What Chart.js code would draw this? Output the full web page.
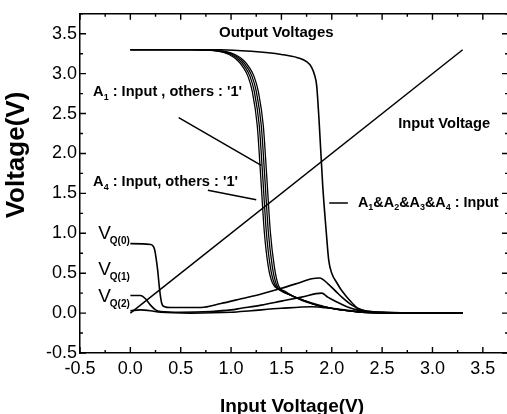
<!DOCTYPE html>
<html>
<head>
<meta charset="utf-8">
<script src="https://cdn.jsdelivr.net/npm/chart.js@4/dist/chart.umd.min.js"></script>
<style>
  html, body { margin: 0; padding: 0; background: #fff; overflow: hidden; }
  #wrap { position: relative; width: 510px; height: 414px; }
</style>
</head>
<body>
<div id="wrap"><canvas id="chart"></canvas></div>
<script>
// major tick values (labels are printed with one decimal)
var xTicks = [-0.5, 0.0, 0.5, 1.0, 1.5, 2.0, 2.5, 3.0, 3.5];
var yTicks = [-0.5, 0.0, 0.5, 1.0, 1.5, 2.0, 2.5, 3.0, 3.5];

// input voltage sweep
var inX = [0, 3.3];
var inY = [0, 3.3];

// output, one input switching at a time (A1..A4 : input, others '1')
var a1X = [0, 0.6, 0.88, 0.98, 1.06, 1.12, 1.17, 1.21, 1.26, 1.295, 1.33, 1.37, 1.41, 1.48, 1.6, 1.7, 1.85, 2.0, 2.15, 2.3, 2.6, 3.3];
var a1Y = [3.3, 3.3, 3.28, 3.24, 3.17, 3.08, 2.96, 2.78, 2.35, 1.70, 1.02, 0.58, 0.38, 0.29, 0.22, 0.17, 0.11, 0.06, 0.03, 0.01, 0.0, 0.0];
var a2X = [0, 0.6, 0.90, 1.00, 1.08, 1.14, 1.19, 1.23, 1.28, 1.315, 1.35, 1.39, 1.43, 1.50, 1.6, 1.7, 1.85, 2.0, 2.15, 2.3, 2.6, 3.3];
var a2Y = [3.3, 3.3, 3.28, 3.24, 3.17, 3.08, 2.96, 2.78, 2.35, 1.70, 1.02, 0.58, 0.37, 0.28, 0.22, 0.17, 0.10, 0.06, 0.03, 0.01, 0.0, 0.0];
var a3X = [0, 0.6, 0.92, 1.02, 1.10, 1.16, 1.21, 1.25, 1.30, 1.335, 1.37, 1.41, 1.45, 1.52, 1.6, 1.7, 1.85, 2.0, 2.15, 2.3, 2.6, 3.3];
var a3Y = [3.3, 3.3, 3.28, 3.24, 3.17, 3.08, 2.96, 2.78, 2.35, 1.70, 1.02, 0.58, 0.36, 0.27, 0.22, 0.16, 0.10, 0.06, 0.03, 0.01, 0.0, 0.0];
var a4X = [0, 0.6, 0.94, 1.04, 1.12, 1.18, 1.23, 1.27, 1.32, 1.355, 1.39, 1.43, 1.47, 1.54, 1.62, 1.72, 1.85, 2.0, 2.15, 2.3, 2.6, 3.3];
var a4Y = [3.3, 3.3, 3.28, 3.24, 3.17, 3.08, 2.96, 2.78, 2.35, 1.70, 1.02, 0.58, 0.35, 0.27, 0.21, 0.16, 0.10, 0.06, 0.03, 0.01, 0.0, 0.0];

// output, all four inputs tied together (A1&A2&A3&A4 : input)
var allX = [0, 0.9, 1.2, 1.5, 1.66, 1.75, 1.80, 1.83, 1.85, 1.875, 1.91, 1.945, 1.97, 2.0, 2.05, 2.1, 2.2, 2.27, 2.5, 3.3];
var allY = [3.3, 3.3, 3.28, 3.24, 3.20, 3.15, 3.08, 2.98, 2.85, 2.39, 1.60, 1.02, 0.66, 0.50, 0.38, 0.28, 0.13, 0.05, 0.01, 0.0];

// internal node voltages
var q0X = [0, 0.2, 0.24, 0.27, 0.29, 0.31, 0.34, 0.4, 0.7, 0.9, 1.1, 1.3, 1.5, 1.7, 1.8, 1.88, 1.96, 2.05, 2.1, 2.2, 2.3, 2.5, 3.3];
var q0Y = [0.87, 0.86, 0.80, 0.55, 0.30, 0.13, 0.08, 0.07, 0.07, 0.12, 0.18, 0.24, 0.31, 0.39, 0.43, 0.44, 0.37, 0.26, 0.20, 0.10, 0.04, 0.01, 0.0];
var q1X = [0, 0.1, 0.15, 0.2, 0.25, 0.3, 0.5, 0.8, 1.0, 1.1, 1.3, 1.5, 1.7, 1.9, 1.96, 2.05, 2.15, 2.25, 2.4, 3.3];
var q1Y = [0.22, 0.22, 0.18, 0.10, 0.04, 0.02, 0.01, 0.02, 0.04, 0.06, 0.10, 0.15, 0.20, 0.25, 0.20, 0.14, 0.08, 0.04, 0.01, 0.0];
var q2X = [0, 0.1, 0.2, 0.3, 0.6, 1.0, 1.2, 1.5, 1.8, 2.0, 2.2, 2.4, 3.3];
var q2Y = [0.03, 0.04, 0.03, 0.01, 0.0, 0.01, 0.03, 0.06, 0.08, 0.06, 0.03, 0.01, 0.0];

var FONT = '"Liberation Sans", Arial, sans-serif';

function pts(xs, ys) {
    return xs.map(function(x, i) { return {x: x, y: ys[i]}; });
}
function curve(xs, ys, w) {
    return {
        data: pts(xs, ys),
        borderColor: '#000',
        borderWidth: w || 1.6,
        pointRadius: 0,
        fill: false,
        cubicInterpolationMode: 'monotone'
    };
}

// text notes, placed in data units (left edge, middle)
var notes = [
    {text: 'Output Voltages', x: 0.88, y: 3.51, size: 15},
    {text: "A_{1} : Input , others : '1'", x: -0.37, y: 2.77, size: 14.6},
    {text: "A_{4} : Input, others : '1'", x: -0.37, y: 1.64, size: 14.6},
    {text: 'A_{1}&A_{2}&A_{3}&A_{4} : Input', x: 2.26, y: 1.38, size: 14.4},
    {text: 'Input Voltage', x: 2.66, y: 2.37, size: 14.7}
];
var vLabels = [
    {sub: 'Q(0)', x: -0.32, y: 1.0},
    {sub: 'Q(1)', x: -0.32, y: 0.545},
    {sub: 'Q(2)', x: -0.32, y: 0.21}
];
var leaders = [
    [0.48, 2.45, 1.30, 1.85],
    [0.77, 1.54, 1.25, 1.42],
    [1.975, 1.38, 2.16, 1.38]
];

function drawRich(ctx, str, x, y, size, subSize) {
    var parts = str.split(/_\{([^}]*)\}/);
    ctx.textBaseline = 'middle';
    ctx.textAlign = 'left';
    for (var i = 0; i < parts.length; i++) {
        if (!parts[i]) continue;
        if (i % 2) {
            ctx.font = 'bold ' + subSize + 'px ' + FONT;
            ctx.fillText(parts[i], x, y + size * 0.35);
        } else {
            ctx.font = 'bold ' + size + 'px ' + FONT;
            ctx.fillText(parts[i], x, y);
        }
        x += ctx.measureText(parts[i]).width;
    }
}

var decor = {
    id: 'decor',
    afterDraw: function(chart) {
        var ctx = chart.ctx, a = chart.chartArea;
        var sx = chart.scales.x, sy = chart.scales.y;
        ctx.save();
        ctx.strokeStyle = '#000';
        ctx.fillStyle = '#000';
        ctx.lineWidth = 1.4;

        // inward ticks on all four sides, minor ones half way
        ctx.beginPath();
        xTicks.forEach(function(v) {
            [[v, 6], [v + 0.25, 3]].forEach(function(t) {
                var p = sx.getPixelForValue(t[0]);
                if (p > a.right) return;
                ctx.moveTo(p, a.bottom); ctx.lineTo(p, a.bottom - t[1]);
                ctx.moveTo(p, a.top); ctx.lineTo(p, a.top + t[1]);
            });
        });
        yTicks.forEach(function(v) {
            [[v, 6], [v + 0.25, 3]].forEach(function(t) {
                var p = sy.getPixelForValue(t[0]);
                if (p < a.top) return;
                ctx.moveTo(a.left, p); ctx.lineTo(a.left + t[1], p);
                ctx.moveTo(a.right, p); ctx.lineTo(a.right - t[1], p);
            });
        });
        ctx.stroke();

        // pointer lines
        ctx.lineWidth = 1.5;
        ctx.beginPath();
        leaders.forEach(function(l) {
            ctx.moveTo(sx.getPixelForValue(l[0]), sy.getPixelForValue(l[1]));
            ctx.lineTo(sx.getPixelForValue(l[2]), sy.getPixelForValue(l[3]));
        });
        ctx.stroke();

        notes.forEach(function(n) {
            drawRich(ctx, n.text, sx.getPixelForValue(n.x), sy.getPixelForValue(n.y), n.size, 9);
        });

        vLabels.forEach(function(n) {
            var x = sx.getPixelForValue(n.x), y = sy.getPixelForValue(n.y);
            ctx.textBaseline = 'middle';
            ctx.textAlign = 'left';
            ctx.font = '19px ' + FONT;
            ctx.fillText('V', x, y);
            var w = ctx.measureText('V').width;
            ctx.font = 'bold 10px ' + FONT;
            ctx.fillText(n.sub, x + w - 1, y + 8);
        });

        // axis titles
        ctx.font = 'bold 19px ' + FONT;
        ctx.textAlign = 'center';
        ctx.textBaseline = 'alphabetic';
        ctx.fillText('Input Voltage(V)', (a.left + a.right) / 2 - 2, 412);
        ctx.save();
        ctx.translate(17, 155);
        ctx.rotate(-Math.PI / 2);
        ctx.font = 'bold 26px ' + FONT;
        ctx.textBaseline = 'middle';
        ctx.fillText('Voltage(V)', 0, 0);
        ctx.restore();

        ctx.restore();
    }
};

function frameAxis(pos, ticks) {
    var horiz = (pos === 'bottom' || pos === 'top');
    return {
        type: 'linear',
        position: pos,
        min: -0.5,
        max: 3.75,
        afterBuildTicks: function(s) { s.ticks = ticks.map(function(v) { return {value: v}; }); },
        afterFit: function(s) {
            if (horiz) s.height = (pos === 'bottom') ? 61 : 0;
            else s.width = (pos === 'left') ? 80 : 0;
        },
        ticks: {
            display: pos === 'bottom' || pos === 'left',
            autoSkip: false,
            maxRotation: 0,
            padding: horiz ? 5 : 3,
            color: '#000',
            font: {family: FONT, size: 18},
            callback: function(v) { return Number(v).toFixed(1); }
        },
        grid: {display: false, drawTicks: false},
        border: {display: true, color: '#000', width: 1.5}
    };
}

new Chart(document.getElementById('chart'), {
    type: 'line',
    data: {
        datasets: [
            curve(inX, inY, 1.5),
            curve(a1X, a1Y, 1.3),
            curve(a2X, a2Y, 1.3),
            curve(a3X, a3Y, 1.3),
            curve(a4X, a4Y, 1.3),
            curve(allX, allY),
            curve(q0X, q0Y),
            curve(q1X, q1Y),
            curve(q2X, q2Y)
        ]
    },
    options: {
        responsive: true,
        maintainAspectRatio: false,
        animation: false,
        layout: {padding: {top: 11, right: 2, bottom: 0, left: 0}},
        plugins: {legend: {display: false}, tooltip: {enabled: false}},
        scales: {
            x: frameAxis('bottom', xTicks),
            y: frameAxis('left', yTicks),
            x2: frameAxis('top', xTicks),
            y2: frameAxis('right', yTicks)
        }
    },
    plugins: [decor]
});
</script>
</body>
</html>
